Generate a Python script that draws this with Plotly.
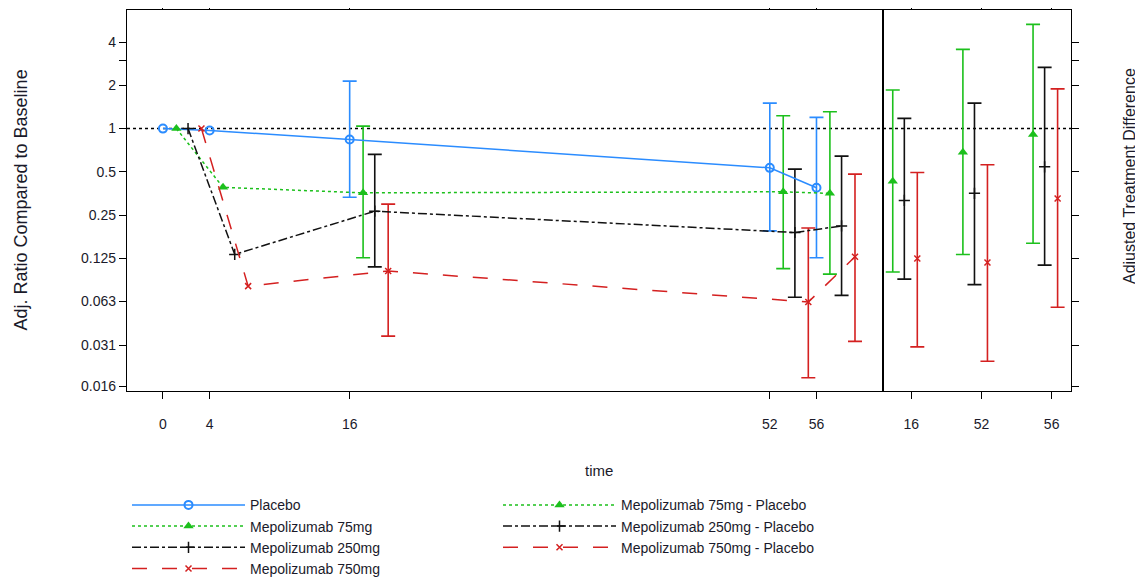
import plotly.graph_objects as go

# ---------------- data ----------------
times = [0, 4, 16, 52, 56]
time_ticks = [0, 4, 16, 52, 56]

placebo = [1.0, 0.97, 0.84, 0.533, 0.387]
placebo_lo = [None, None, 0.333, 0.194, 0.126]
placebo_hi = [None, None, 2.14, 1.505, 1.197]

m75 = [1.0, 0.39, 0.357, 0.363, 0.354]
m75_lo = [None, None, 0.126, 0.106, 0.097]
m75_hi = [None, None, 1.04, 1.23, 1.31]

m250 = [1.0, 0.133, 0.266, 0.189, 0.21]
m250_lo = [None, None, 0.109, 0.067, 0.069]
m250_hi = [None, None, 0.661, 0.522, 0.643]

m750 = [1.0, 0.08, 0.102, 0.062, 0.128]
m750_lo = [None, None, 0.0359, 0.0184, 0.033]
m750_hi = [None, None, 0.298, 0.203, 0.482]

diff_times = ["16", "52", "56"]
d75 = [0.43, 0.683, 0.911]
d75_lo = [0.1004, 0.133, 0.159]
d75_hi = [1.855, 3.56, 5.32]

d250 = [0.316, 0.354, 0.542]
d250_lo = [0.0895, 0.082, 0.112]
d250_hi = [1.178, 1.505, 2.67]

d750 = [0.1246, 0.117, 0.326]
d750_lo = [0.0302, 0.024, 0.057]
d750_hi = [0.495, 0.56, 1.89]

y_tickvals = [0.016, 0.031, 0.063, 0.125, 0.25, 0.5, 1, 2, 3, 4]
y_ticktext = ["0.016", "0.031", "0.063", "0.125", "0.25", "0.5", "1", "2", "", "4"]

# ---------------- styles ----------------
BLUE = "#2B8CFF"
GREEN = "#1CC01C"
BLACK = "#111111"
RED = "#D42020"
FONT = "Liberation Sans, Arial, sans-serif"

dodge_left = [0.0, 1.15, 2.15, 3.3]
dodge_right = [-0.265, -0.1, 0.085]

fig = go.Figure()


def err(vals, lo, hi):
    plus = [None if h is None else h - v for v, h in zip(vals, hi)]
    minus = [None if l is None else v - l for v, l in zip(vals, lo)]
    return plus, minus


series = [
    ("Placebo", placebo, placebo_lo, placebo_hi, BLUE, "solid",
     dict(symbol="circle-open", size=8, line=dict(width=2, color=BLUE))),
    ("Mepolizumab 75mg", m75, m75_lo, m75_hi, GREEN, "dot",
     dict(symbol="triangle-up", size=9, color=GREEN)),
    ("Mepolizumab 250mg", m250, m250_lo, m250_hi, BLACK, "dashdot",
     dict(symbol="cross-thin", size=8, line=dict(width=1.5, color=BLACK))),
    ("Mepolizumab 750mg", m750, m750_lo, m750_hi, RED, "longdash",
     dict(symbol="x-thin", size=6, line=dict(width=1.5, color=RED))),
]

diffs = [
    ("Mepolizumab 75mg - Placebo", d75, d75_lo, d75_hi, GREEN, "dot",
     dict(symbol="triangle-up", size=9, color=GREEN)),
    ("Mepolizumab 250mg - Placebo", d250, d250_lo, d250_hi, BLACK, "dashdot",
     dict(symbol="cross-thin", size=8, line=dict(width=1.5, color=BLACK))),
    ("Mepolizumab 750mg - Placebo", d750, d750_lo, d750_hi, RED, "longdash",
     dict(symbol="x-thin", size=6, line=dict(width=1.5, color=RED))),
]

# reference line at ratio 1 (both panels)
xr_left = [-3.08, 61.7]
xr_right = [0.596, 3.276]
fig.add_trace(go.Scatter(x=xr_left, y=[1, 1], mode="lines", xaxis="x", yaxis="y",
                         line=dict(color="black", width=1.5, dash="3px,3px"),
                         showlegend=False, hoverinfo="skip"))
fig.add_trace(go.Scatter(x=xr_right, y=[1, 1], mode="lines", xaxis="x2", yaxis="y2",
                         line=dict(color="black", width=1.5, dash="3px,3px"),
                         showlegend=False, hoverinfo="skip"))

# left panel: error bars
for i, (name, vals, lo, hi, col, dash, mk) in enumerate(series):
    xs = [t + dodge_left[i] for t in times]
    plus, minus = err(vals, lo, hi)
    ex = [x for x, h in zip(xs, hi) if h is not None]
    ey = [v for v, h in zip(vals, hi) if h is not None]
    ep = [p for p in plus if p is not None]
    em = [m for m in minus if m is not None]
    fig.add_trace(go.Scatter(x=ex, y=ey, mode="markers", xaxis="x", yaxis="y",
                             marker=dict(size=1, opacity=0),
                             error_y=dict(type="data", symmetric=False, array=ep,
                                          arrayminus=em, color=col, thickness=1.6, width=7),
                             showlegend=False, hoverinfo="skip"))

# left panel: lines + markers
for i, (name, vals, lo, hi, col, dash, mk) in enumerate(series):
    xs = [t + dodge_left[i] for t in times]
    fig.add_trace(go.Scatter(x=xs, y=vals, mode="lines+markers", xaxis="x", yaxis="y",
                             name=name, line=dict(color=col, width=1.5, dash=dash),
                             marker=mk, showlegend=False))

# right panel: differences
for i, (name, vals, lo, hi, col, dash, mk) in enumerate(diffs):
    xs = [k + 1 + dodge_right[i] for k in range(len(diff_times))]
    plus, minus = err(vals, lo, hi)
    fig.add_trace(go.Scatter(x=xs, y=vals, mode="markers", xaxis="x2", yaxis="y2",
                             name=name, marker=mk,
                             error_y=dict(type="data", symmetric=False, array=plus,
                                          arrayminus=minus, color=col, thickness=1.6, width=7),
                             showlegend=False))

# legend entries (order gives two columns in a horizontal legend)
legend_order = [series[0], diffs[0], series[1], diffs[1], series[2], diffs[2], series[3]]
for (name, vals, lo, hi, col, dash, mk) in legend_order:
    fig.add_trace(go.Scatter(x=[None], y=[None], mode="lines+markers", xaxis="x", yaxis="y",
                             name=name, line=dict(color=col, width=1.5, dash=dash),
                             marker=mk, showlegend=True))

axis_common = dict(showgrid=False, zeroline=False, showline=True, linecolor="black",
                   linewidth=1.3, ticks="outside", ticklen=7, tickwidth=1.3,
                   tickcolor="black", tickfont=dict(size=14, color="#1a1a2a", family=FONT))

LD = (883 - 127) / (1071 - 127)
ylog_range = [-1.827, 0.8257]

fig.update_layout(
    width=1135, height=573,
    margin=dict(l=119, r=72, t=2, b=190, autoexpand=False),
    paper_bgcolor="white", plot_bgcolor="white",
    font=dict(family=FONT, size=14, color="#1a1a2a"),
    xaxis=dict(domain=[0, LD], range=xr_left, tickvals=time_ticks,
               ticktext=[str(t) for t in time_ticks], mirror="ticks",
               ticklabelstandoff=13, **axis_common),
    xaxis2=dict(domain=[LD, 1], range=xr_right, tickvals=[1, 2, 3],
                ticktext=diff_times, mirror="ticks", anchor="y2",
                ticklabelstandoff=13, **axis_common),
    yaxis=dict(type="log", range=ylog_range, tickvals=y_tickvals, ticktext=y_ticktext,
               mirror=True, anchor="x", **axis_common),
    yaxis2=dict(type="log", range=ylog_range, tickvals=y_tickvals, showticklabels=False,
                side="right", mirror=True, anchor="x2", **axis_common),
    legend=dict(orientation="h", x=0.0, y=-0.258, xanchor="left", yanchor="top",
                entrywidth=243, entrywidthmode="pixels", itemwidth=113,
                font=dict(size=14, family=FONT, color="#1a1a2a"),
                bgcolor="rgba(0,0,0,0)", tracegroupgap=0),
    annotations=[
        dict(text="time", x=0.5, y=(391 - 470) / 381, xref="paper", yref="paper",
             showarrow=False, font=dict(size=15), xanchor="center", yanchor="middle"),
        dict(text="Adj. Ratio Compared to Baseline", x=(20 - 127) / 944, y=0.5,
             xref="paper", yref="paper", textangle=-90, showarrow=False,
             font=dict(size=18), xanchor="center", yanchor="middle"),
        dict(text="Adjusted Treatment Difference", x=(1129 - 127) / 944,
             y=(391 - 176) / 381, xref="paper", yref="paper", textangle=-90,
             showarrow=False, font=dict(size=16), xanchor="center", yanchor="middle"),
    ],
)

fig.write_html("out.html")
